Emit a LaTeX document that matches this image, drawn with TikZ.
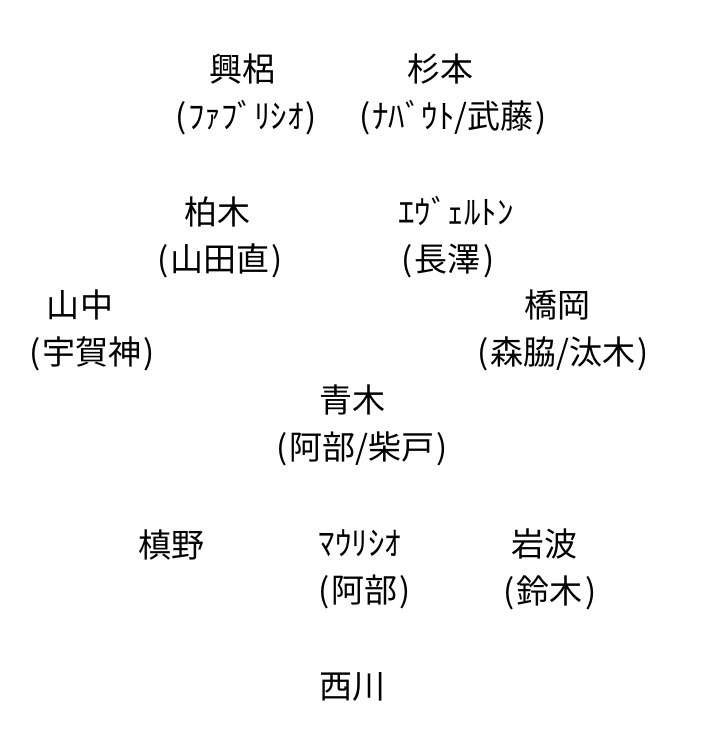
\documentclass[tikz,border=0pt]{standalone}
\usepackage{fontspec}
\setmainfont{Noto Sans CJK JP}
\newcommand{\lpar}{\kern1pt(\kern2pt}
\newcommand{\rpar}{\kern2pt)\kern1pt}
\newcommand{\sh}[1]{\hspace*{#1pt}}
\begin{document}
\begin{tikzpicture}[x=1pt,y=-1pt,
  lbl/.style={align=center,inner sep=0pt,font=\fontsize{33}{47}\selectfont}]
\useasboundingbox (0,0) rectangle (720,751);
\node[lbl] (kouroki) at (246,94) {興梠\sh{7}\\\lpar ﾌｧﾌﾞﾘｼｵ\rpar};
\node[lbl] (sugimoto) at (453,94) {杉本\sh{26}\\\lpar ﾅﾊﾞｳﾄ/武藤\rpar};
\node[lbl] (kashiwagi) at (220,237) {柏木\sh{6}\\\lpar 山田直\rpar};
\node[lbl] (everton) at (456,237) {ｴｳﾞｪﾙﾄﾝ\\\lpar 長澤\rpar\sh{16}};
\node[lbl] (yamanaka) at (92,330) {山中\sh{24}\\\lpar 宇賀神\rpar};
\node[lbl] (hashioka) at (563,330) {橋岡\sh{12}\\\lpar 森脇/汰木\rpar};
\node[lbl] (aoki) at (362,425) {青木\sh{20}\\\lpar 阿部/柴戸\rpar};
\node[lbl] (makino) at (171,545) {槙野};
\node[lbl] (mauricio) at (365,569) {ﾏｳﾘｼｵ\sh{10}\\\lpar 阿部\rpar};
\node[lbl] (iwanami) at (550,569) {岩波\sh{12}\\\lpar 鈴木\rpar};
\node[lbl] (nishikawa) at (352,687) {西川};
\end{tikzpicture}
\end{document}
